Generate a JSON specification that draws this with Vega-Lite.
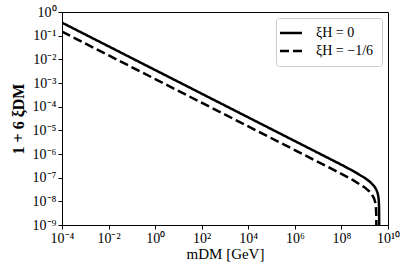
{
  "$schema": "https://vega.github.io/schema/vega-lite/v6.json",
  "autosize": {"type": "none"},
  "padding": {"left": 62, "top": 12, "right": 21, "bottom": 49},
  "width": 326,
  "height": 213,
  "background": "white",
  "config": {
    "font": "Liberation Serif",
    "view": {"stroke": "black", "strokeWidth": 1}
  },
  "data": {
    "values": [
      {"series": "ξH = 0", "x": 1e-4, "y": 0.3548},
      {"series": "ξH = 0", "x": 1e8, "y": 3.51e-7},
      {"series": "ξH = 0", "x": 3.162e8, "y": 1.919e-7},
      {"series": "ξH = 0", "x": 1e9, "y": 9.78e-8},
      {"series": "ξH = 0", "x": 1.585e9, "y": 7.02e-8},
      {"series": "ξH = 0", "x": 2.512e9, "y": 4.47e-8},
      {"series": "ξH = 0", "x": 3.162e9, "y": 3.10e-8},
      {"series": "ξH = 0", "x": 3.548e9, "y": 2.30e-8},
      {"series": "ξH = 0", "x": 3.802e9, "y": 1.71e-8},
      {"series": "ξH = 0", "x": 3.981e9, "y": 1.19e-8},
      {"series": "ξH = 0", "x": 4.074e9, "y": 8.4e-9},
      {"series": "ξH = 0", "x": 4.121e9, "y": 5.9e-9},
      {"series": "ξH = 0", "x": 4.159e9, "y": 2.64e-9},
      {"series": "ξH = 0", "x": 4.1678e9, "y": 8.3e-10},
      {"series": "ξH = −1/6", "x": 1e-4, "y": 0.1479},
      {"series": "ξH = −1/6", "x": 1e8, "y": 1.455e-7},
      {"series": "ξH = −1/6", "x": 3.162e8, "y": 7.89e-8},
      {"series": "ξH = −1/6", "x": 1e9, "y": 3.87e-8},
      {"series": "ξH = −1/6", "x": 1.585e9, "y": 2.62e-8},
      {"series": "ξH = −1/6", "x": 1.995e9, "y": 2.01e-8},
      {"series": "ξH = −1/6", "x": 2.512e9, "y": 1.34e-8},
      {"series": "ξH = −1/6", "x": 2.818e9, "y": 9.19e-9},
      {"series": "ξH = −1/6", "x": 3.020e9, "y": 5.71e-9},
      {"series": "ξH = −1/6", "x": 3.090e9, "y": 4.02e-9},
      {"series": "ξH = −1/6", "x": 3.126e9, "y": 2.83e-9},
      {"series": "ξH = −1/6", "x": 3.155e9, "y": 1.26e-9},
      {"series": "ξH = −1/6", "x": 3.1616e9, "y": 4.0e-10}
    ]
  },
  "mark": {"type": "line", "color": "black", "strokeWidth": 2.5, "clip": true},
  "encoding": {
    "x": {
      "field": "x", "type": "quantitative",
      "scale": {"type": "log", "domain": [1e-4, 1e10], "nice": false},
      "axis": {
        "values": [1e-4, 1e-2, 1, 1e2, 1e4, 1e6, 1e8, 1e10],
        "labelExpr": "['10⁻⁴','10⁻²','10⁰','10²','10⁴','10⁶','10⁸','10¹⁰'][round((log(datum.value)/LN10+4)/2)]",
        "grid": false, "domainColor": "black", "tickColor": "black",
        "tickSize": 4, "labelFontSize": 14, "labelColor": "black",
        "labelPadding": 2, "labelFlush": false,
        "title": "mDM  [GeV]", "titleFontSize": 15, "titleFontWeight": "normal",
        "titleColor": "black", "titlePadding": 1
      }
    },
    "y": {
      "field": "y", "type": "quantitative",
      "scale": {"type": "log", "domain": [1e-9, 1], "nice": false},
      "axis": {
        "values": [1e-9, 1e-8, 1e-7, 1e-6, 1e-5, 1e-4, 1e-3, 1e-2, 1e-1, 1],
        "labelExpr": "['10⁰','10⁻¹','10⁻²','10⁻³','10⁻⁴','10⁻⁵','10⁻⁶','10⁻⁷','10⁻⁸','10⁻⁹'][round(-log(datum.value)/LN10)]",
        "grid": false, "domainColor": "black", "tickColor": "black",
        "tickSize": 4, "labelFontSize": 14, "labelColor": "black",
        "labelPadding": 2, "labelFlush": false,
        "title": "1 + 6 ξDM", "titleFontSize": 16, "titleFontWeight": "bold",
        "titleColor": "black", "titlePadding": 6
      }
    },
    "strokeDash": {
      "field": "series", "type": "nominal",
      "scale": {"domain": ["ξH = 0", "ξH = −1/6"], "range": [[1, 0], [9, 4]]},
      "legend": {
        "title": null, "orient": "top-right", "offset": 6,
        "padding": 8, "strokeColor": "#cccccc", "cornerRadius": 3,
        "fillColor": "white", "symbolType": "M-2,0H2", "symbolSize": 121,
        "symbolStrokeWidth": 2.5, "symbolStrokeColor": "black",
        "labelFontSize": 14, "labelColor": "black", "rowPadding": 4,
        "labelOffset": 18
      }
    }
  }
}
